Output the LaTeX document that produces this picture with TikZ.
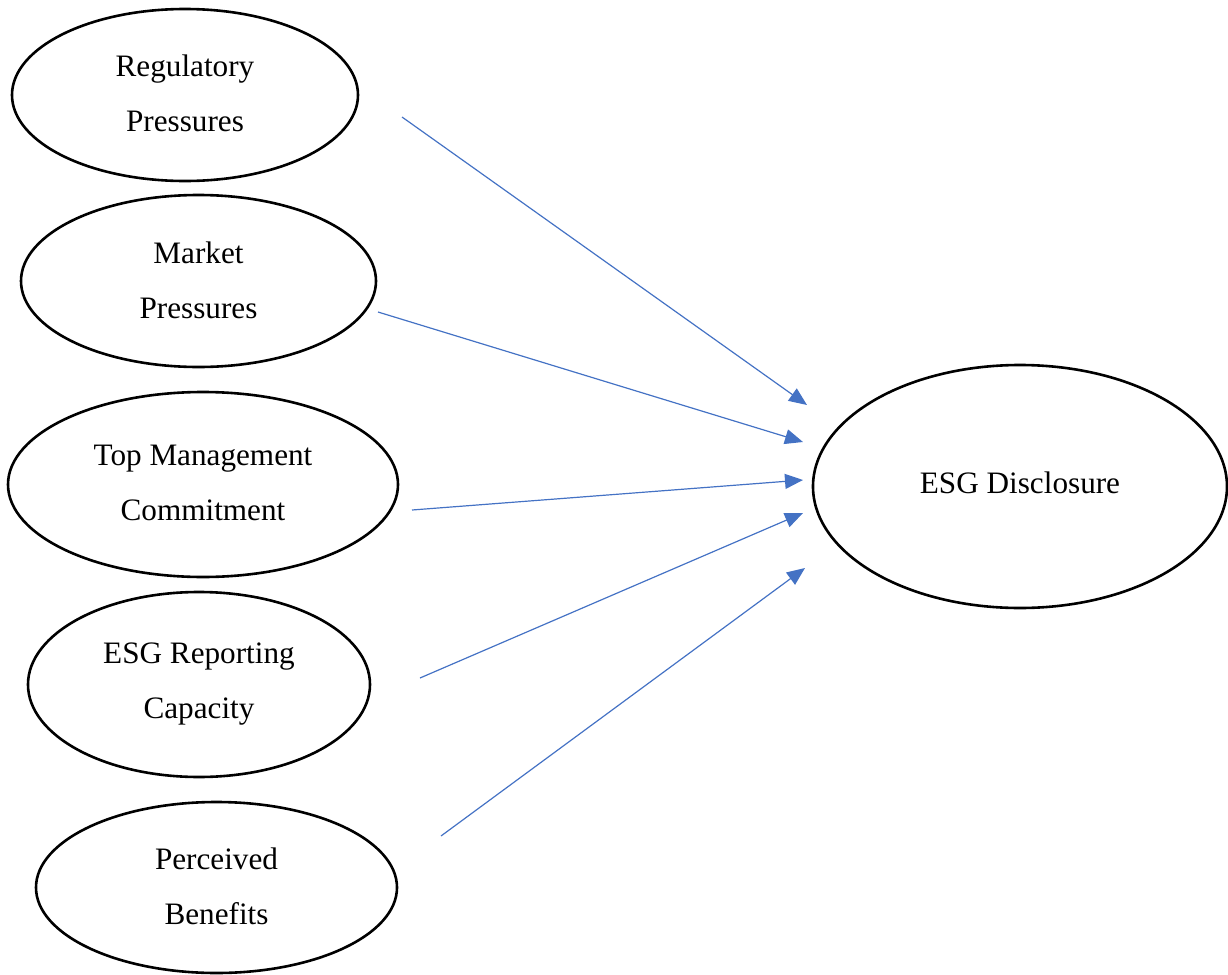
\documentclass[tikz,border=0pt]{standalone}
\usepackage{fontspec}
\setmainfont{Liberation Serif}
\usetikzlibrary{shapes.geometric,arrows.meta}
\definecolor{arrowblue}{HTML}{4472C4}
\tikzset{
  construct/.style={draw=black, line width=1.3pt, ellipse, inner sep=0pt, align=center,
    font=\fontsize{15.6}{27.5}\selectfont},
  link/.style={draw=arrowblue, line width=0.6pt, -{Triangle[length=9pt,width=7.5pt]}}
}
\begin{document}
\begin{tikzpicture}[x=0.5pt,y=-0.5pt]
\useasboundingbox (0,0) rectangle (1228,975);
\node[construct, minimum width=173pt, minimum height=86pt] (reg) at (185,95) {\raisebox{1.5pt}{Regulatory}\\\raisebox{1.5pt}{Pressures}};
\node[construct, minimum width=177.5pt, minimum height=86pt] (mkt) at (198.5,281) {\raisebox{1pt}{Market}\\\raisebox{1pt}{Pressures}};
\node[construct, minimum width=195pt, minimum height=92.5pt] (top) at (203,484.5) {\raisebox{2pt}{Top Management}\\\raisebox{2pt}{Commitment}};
\node[construct, minimum width=171pt, minimum height=92.5pt] (cap) at (199,684.5) {\raisebox{1pt}{ESG Reporting}\\\raisebox{1pt}{Capacity}};
\node[construct, minimum width=180.5pt, minimum height=85.5pt] (ben) at (216.5,887.5) {\raisebox{1pt}{Perceived}\\\raisebox{1pt}{Benefits}};
\node[construct, minimum width=207pt, minimum height=121.5pt] (esg) at (1020,486.5) {\raisebox{3.5pt}{ESG Disclosure}};
\coordinate (s1) at (402,117);
\coordinate (e1) at (807,405);
\coordinate (s2) at (378,312);
\coordinate (e2) at (803,442);
\coordinate (s3) at (412,510);
\coordinate (e3) at (803,480);
\coordinate (s4) at (420,678);
\coordinate (e4) at (803,513);
\coordinate (s5) at (441,836);
\coordinate (e5) at (805,568);
\draw[link] (s1) -- (e1);
\draw[link] (s2) -- (e2);
\draw[link] (s3) -- (e3);
\draw[link] (s4) -- (e4);
\draw[link] (s5) -- (e5);
\end{tikzpicture}
\end{document}
